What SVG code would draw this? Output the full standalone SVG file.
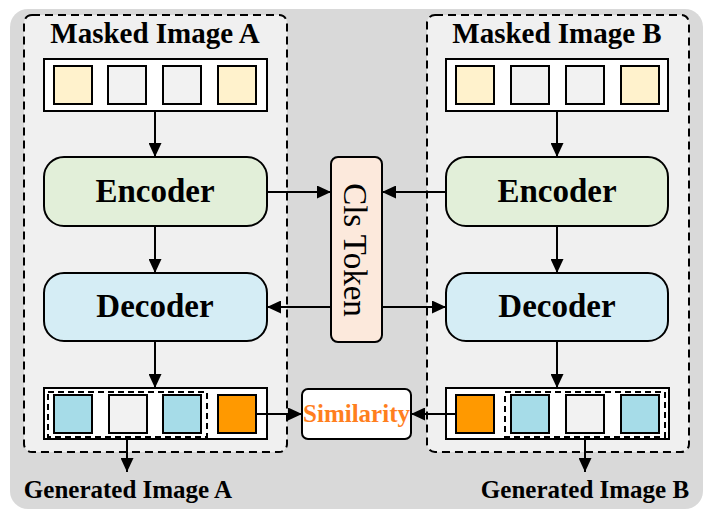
<svg xmlns="http://www.w3.org/2000/svg" width="712" height="518" viewBox="0 0 712 518">
<defs>
<marker id="ah" viewBox="0 0 14 13" refX="14" refY="6.5" markerWidth="14" markerHeight="13" markerUnits="userSpaceOnUse" orient="auto">
<path d="M0,0 L14,6.5 L0,13 Z" fill="#000"/>
</marker>
</defs>
<style>
.t{font-family:"Liberation Serif","Times New Roman",serif;font-weight:bold;fill:#000;text-anchor:middle}
.box{stroke:#000;stroke-width:2}
.grp{fill:#f0f0f0;stroke:#000;stroke-width:2;stroke-dasharray:8 5}
.strip{fill:#fff;stroke:#000;stroke-width:2}
.sq{stroke:#000;stroke-width:2}
.y{fill:#fff2cc}.g{fill:#f2f2f2}.b{fill:#a6dce8}.o{fill:#ff9900}
.inner{fill:none;stroke:#000;stroke-width:2;stroke-dasharray:6 4}
.c{fill:none;stroke:#000;stroke-width:2;marker-end:url(#ah)}
</style>
<rect x="10" y="9" width="693" height="500" rx="18" fill="#d9d9d9"/>

<g id="groupA">
<rect class="grp" x="24" y="15" width="263" height="437" rx="8"/>
<text class="t" x="155" y="43" font-size="29">Masked Image A</text>
</g>
<g id="groupB">
<rect class="grp" x="427" y="15" width="262" height="437" rx="8"/>
<text class="t" x="557" y="43" font-size="29">Masked Image B</text>
</g>

<g id="inputA">
<rect class="strip" x="44" y="59" width="223" height="52"/>
<rect class="sq y" x="54" y="66" width="38" height="38"/>
<rect class="sq g" x="108" y="66" width="38" height="38"/>
<rect class="sq g" x="163" y="66" width="38" height="38"/>
<rect class="sq y" x="218" y="66" width="38" height="38"/>
</g>
<g id="inputB">
<rect class="strip" x="446" y="59" width="222" height="52"/>
<rect class="sq y" x="456" y="66" width="38" height="38"/>
<rect class="sq g" x="511" y="66" width="38" height="38"/>
<rect class="sq g" x="566" y="66" width="38" height="38"/>
<rect class="sq y" x="621" y="66" width="38" height="38"/>
</g>

<g id="encoderA">
<rect class="box" x="44" y="157" width="223" height="69" rx="20" fill="#e2efd9"/>
<text class="t" x="155" y="202" font-size="33">Encoder</text>
</g>
<g id="encoderB">
<rect class="box" x="446" y="157" width="222" height="69" rx="20" fill="#e2efd9"/>
<text class="t" x="557" y="202" font-size="33">Encoder</text>
</g>
<g id="decoderA">
<rect class="box" x="44" y="273" width="223" height="68" rx="20" fill="#d5edf5"/>
<text class="t" x="155" y="317" font-size="33">Decoder</text>
</g>
<g id="decoderB">
<rect class="box" x="446" y="273" width="222" height="68" rx="20" fill="#d5edf5"/>
<text class="t" x="557" y="317" font-size="33">Decoder</text>
</g>

<g id="clsToken">
<rect class="box" x="331" y="157" width="51" height="185" rx="7" fill="#fce9dc"/>
<text transform="translate(344,250) rotate(90)" x="0" y="0" font-family="Liberation Serif,'Times New Roman',serif" font-size="33" text-anchor="middle" fill="#000">Cls Token</text>
</g>

<g id="outputA">
<rect class="strip" x="44" y="388" width="223" height="51"/>
<rect class="inner" x="48" y="392" width="159" height="45"/>
<rect class="sq b" x="54" y="395" width="38" height="38"/>
<rect class="sq g" x="109" y="395" width="38" height="38"/>
<rect class="sq b" x="163" y="395" width="38" height="38"/>
<rect class="sq o" x="218" y="395" width="38" height="38"/>
</g>
<g id="outputB">
<rect class="strip" x="446" y="388" width="223" height="51"/>
<rect class="inner" x="505" y="392" width="160" height="45"/>
<rect class="sq o" x="456" y="395" width="38" height="38"/>
<rect class="sq b" x="511" y="395" width="38" height="38"/>
<rect class="sq g" x="566" y="395" width="38" height="38"/>
<rect class="sq b" x="621" y="395" width="38" height="38"/>
</g>

<g id="similarity">
<rect class="box" x="302" y="389" width="109" height="50" rx="6" fill="#fff"/>
<text class="t" x="356.5" y="422" font-size="25" style="fill:#ff7f1e">Similarity</text>
</g>

<g id="labelA"><text class="t" x="128" y="498" font-size="25">Generated Image A</text></g>
<g id="labelB"><text class="t" x="585" y="498" font-size="25">Generated Image B</text></g>

<g id="connectors">
<line class="c" x1="155" y1="111" x2="155" y2="157"/>
<line class="c" x1="557" y1="111" x2="557" y2="157"/>
<line class="c" x1="155" y1="226" x2="155" y2="273"/>
<line class="c" x1="557" y1="226" x2="557" y2="273"/>
<line class="c" x1="155" y1="341" x2="155" y2="388"/>
<line class="c" x1="557" y1="341" x2="557" y2="388"/>
<line class="c" x1="267" y1="192" x2="331" y2="192"/>
<line class="c" x1="446" y1="192" x2="382" y2="192"/>
<line class="c" x1="331" y1="307" x2="267" y2="307"/>
<line class="c" x1="382" y1="307" x2="446" y2="307"/>
<line class="c" x1="256" y1="414" x2="302" y2="414"/>
<line class="c" x1="456" y1="414" x2="411" y2="414"/>
<line class="c" x1="127" y1="437" x2="127" y2="472"/>
<line class="c" x1="585" y1="437" x2="585" y2="472"/>
</g>
</svg>
